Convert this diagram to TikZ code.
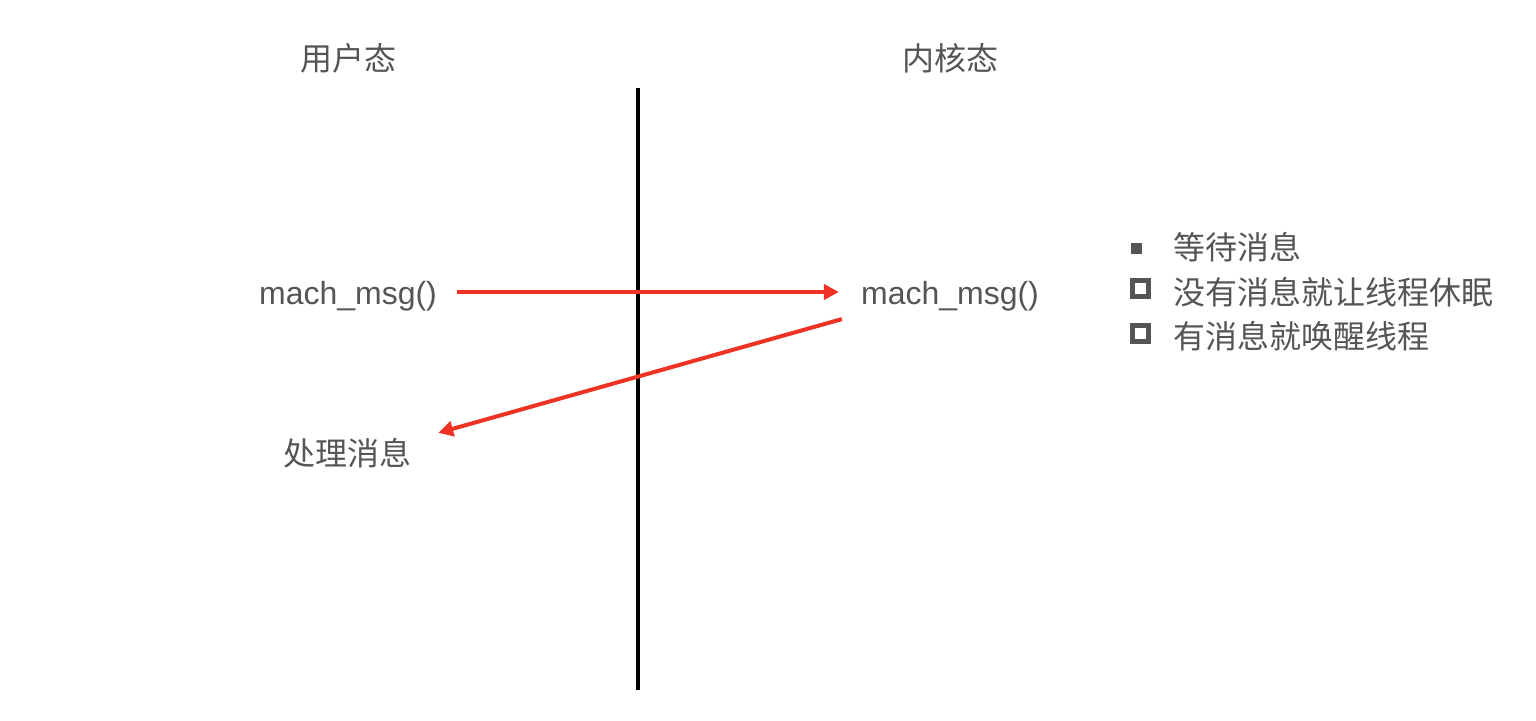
\documentclass[tikz,border=0pt]{standalone}
\usepackage{fontspec}
\setmainfont{Liberation Sans}
\newfontfamily\cjk{Noto Sans CJK SC}
\usetikzlibrary{arrows.meta}
\definecolor{txtgray}{HTML}{555555}
\definecolor{msgred}{HTML}{EE3224}
\tikzset{
    lbl/.style={inner sep=0pt, text=txtgray, font=\fontsize{32}{38}\selectfont\cjk},
    fn/.style={inner sep=0pt, text=txtgray, font=\fontsize{32}{38}\selectfont},
    call/.style={draw=msgred, line width=4pt, -{Triangle[length=15pt,width=15pt]}},
}
\begin{document}
\begin{tikzpicture}[x=1pt, y=1pt]
    \useasboundingbox (0,0) rectangle (1536,720);

    % headings
    \node[lbl] (user) at (348, 662) {用户态};
    \node[lbl] (kernel) at (950, 662) {内核态};

    % boundary
    \coordinate (top) at (638, 632);
    \coordinate (bottom) at (638, 30);
    \draw[line width=4pt] (top) -- (bottom);

    \node[fn] (umsg) at (348, 424) {mach\_msg()};
    \node[fn] (kmsg) at (950, 424) {mach\_msg()};
    \node[lbl] (proc) at (347, 267) {处理消息};

    \draw[call, shorten <=20pt, shorten >=22pt] ([yshift=4pt]umsg.east) -- ([yshift=4pt]kmsg.west);
    \draw[call] ([xshift=-19pt,yshift=-8pt]kmsg.south west) -- ([xshift=27pt,yshift=5pt]proc.north east);

    % notes
    \fill[txtgray] (1130.5, 465.5) rectangle (1141.5, 476.5);
    \draw[txtgray, line width=5pt] (1132.5, 423.5) rectangle (1148.5, 439.5);
    \draw[txtgray, line width=5pt] (1132.5, 378.5) rectangle (1148.5, 394.5);
    \node[lbl, anchor=west] (wait) at (1173, 473) {等待消息};
    \node[lbl, anchor=west] (sleep) at (1173, 428) {没有消息就让线程休眠};
    \node[lbl, anchor=west] (wake) at (1173, 384) {有消息就唤醒线程};
\end{tikzpicture}
\end{document}
